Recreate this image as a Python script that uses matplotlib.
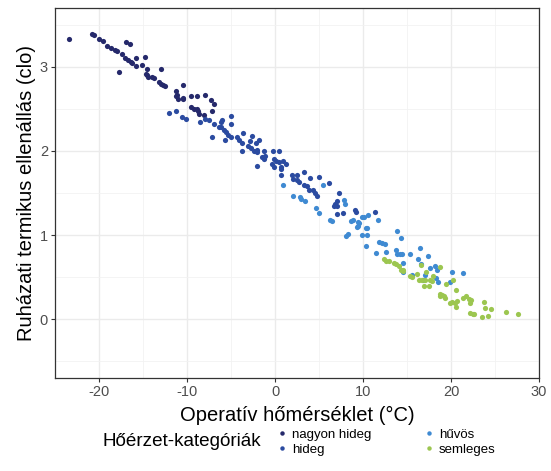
import numpy as np
import matplotlib
matplotlib.use("Agg")
import matplotlib.pyplot as plt
from matplotlib.lines import Line2D
from matplotlib.ticker import MultipleLocator

plt.rcParams['font.family'] = ['Liberation Sans', 'DejaVu Sans']

# Data: operative temperature (°C) vs clothing insulation (clo)
categories = ["nagyon hideg", "hideg", "hűvös", "semleges"]
colors = ["#25296B", "#2B4BA0", "#3F8AD2", "#9CC650"]

nagyon_hideg_x = [-23.4, -20.8, -20.6, -20.0, -19.6, -19.1, -18.6, -18.2, -18.0, -17.4,
                  -16.9, -16.5, -17.0, -16.7, -16.4, -16.2, -15.8, -15.8, -17.7, -15.1,
                  -14.8, -14.5, -13.0, -14.7, -14.5, -14.4, -14.0, -13.75, -13.2, -13.0,
                  -12.7, -12.5, -11.3, -11.1, -11.25, -11.0, -10.45, -10.4, -10.4, -9.5,
                  -8.9, -7.9, -7.3, -6.9, -9.5, -9.25, -8.9, -8.75, -8.6, -8.1, -7.2]
nagyon_hideg_y = [3.33, 3.39, 3.38, 3.33, 3.31, 3.25, 3.22, 3.20, 3.19, 3.15,
                  3.30, 3.27, 3.10, 3.08, 3.06, 3.05, 3.10, 3.01, 2.94, 3.02,
                  3.12, 2.98, 2.98, 2.92, 2.90, 2.88, 2.88, 2.87, 2.82, 2.80,
                  2.78, 2.77, 2.71, 2.67, 2.65, 2.62, 2.79, 2.63, 2.62, 2.65,
                  2.65, 2.66, 2.60, 2.56, 2.52, 2.50, 2.50, 2.48, 2.44, 2.43, 2.47]

hideg_x = [-12.0, -11.3, -10.6, -10.1, -8.0, -7.5, -8.5, -6.9, -6.0, -6.1,
           -5.05, -5.0, -6.4, -6.1, -5.85, -5.6, -5.3, -5.0, -7.2, -5.7,
           -4.3, -4.05, -3.7, -3.6, -2.8, -2.6, -2.2, -1.8, -3.1, -2.7,
           -2.4, -3.8, -2.0, -2.1, -1.2, -1.5, -1.1, -1.3, -2.0, -0.2,
           0.4, -0.15, 0.1, 0.4, 0.9, 1.2, -0.3, -0.15, 0.7, 0.7,
           1.9, 2.5, 2.1, 2.5, 2.7, 0.7, 3.25, 4.0, 5.0, 6.1,
           3.3, 3.6, 3.9, 4.3, 4.5, 4.8, 7.3, 7.1, 6.85, 6.7,
           7.0, 7.7, 7.0, 9.1, 9.15, 11.4]
hideg_y = [2.45, 2.48, 2.40, 2.38, 2.38, 2.37, 2.34, 2.32, 2.37, 2.34,
           2.42, 2.32, 2.29, 2.28, 2.25, 2.22, 2.19, 2.17, 2.16, 2.13,
           2.16, 2.13, 2.09, 2.21, 2.12, 2.18, 2.10, 2.13, 2.06, 2.04,
           2.00, 2.00, 2.01, 1.99, 2.00, 1.93, 1.94, 1.91, 1.82, 2.00,
           2.00, 1.91, 1.88, 1.87, 1.88, 1.85, 1.85, 1.81, 1.81, 1.71,
           1.72, 1.72, 1.67, 1.65, 1.63, 1.78, 1.75, 1.68, 1.69, 1.62,
           1.60, 1.58, 1.54, 1.53, 1.50, 1.46, 1.50, 1.40, 1.37, 1.34,
           1.34, 1.26, 1.25, 1.30, 1.27, 1.27]

huvos_x = [0.9, 2.0, 2.8, 2.95, 3.4, 4.7, 5.0, 5.5, 7.8, 7.9,
           6.2, 6.5, 8.6, 8.9, 9.4, 9.5, 9.9, 10.6, 10.1, 11.7,
           8.25, 8.1, 9.3, 9.4, 9.9, 10.4, 10.3, 10.45, 10.3, 11.8,
           12.2, 12.45, 13.9, 14.3, 11.5, 12.6, 13.8, 13.9, 14.2, 14.4,
           15.3, 16.5, 17.4, 16.3, 16.6, 14.5, 17.6, 18.2, 18.4, 20.1,
           21.4, 18.3, 18.5, 19.9, 15.6, 16.8, 14.6, 17.0]
huvos_y = [1.59, 1.46, 1.45, 1.43, 1.40, 1.32, 1.26, 1.60, 1.42, 1.37,
           1.18, 1.17, 1.17, 1.18, 1.16, 1.14, 1.22, 1.24, 1.22, 1.18,
           1.01, 0.99, 1.09, 1.11, 1.00, 1.00, 1.08, 1.08, 0.87, 0.92,
           0.90, 0.89, 1.05, 0.96, 0.79, 0.80, 0.82, 0.78, 0.77, 0.77,
           0.78, 0.85, 0.75, 0.71, 0.66, 0.67, 0.61, 0.63, 0.59, 0.56,
           0.55, 0.49, 0.44, 0.44, 0.52, 0.46, 0.56, 0.52]

semleges_x = [12.4, 12.65, 12.9, 13.5, 13.8, 14.05, 14.55, 14.3, 14.6, 15.3,
              15.55, 16.1, 16.4, 16.7, 17.2, 18.0, 16.6, 18.7, 17.1, 17.6,
              17.8, 16.9, 17.45, 19.4, 20.2, 20.6, 18.8, 19.0, 19.15, 18.7,
              19.35, 19.85, 20.1, 20.4, 20.7, 20.6, 21.4, 21.7, 22.0, 22.2,
              22.3, 22.2, 22.5, 22.65, 23.5, 24.2, 23.8, 23.9, 24.6, 26.2, 27.6]
semleges_y = [0.71, 0.69, 0.69, 0.67, 0.65, 0.63, 0.59, 0.58, 0.57, 0.51,
              0.50, 0.54, 0.47, 0.46, 0.56, 0.51, 0.64, 0.62, 0.46, 0.46,
              0.45, 0.39, 0.40, 0.42, 0.47, 0.35, 0.30, 0.29, 0.27, 0.27,
              0.25, 0.19, 0.20, 0.19, 0.21, 0.15, 0.25, 0.27, 0.24, 0.19,
              0.23, 0.07, 0.06, 0.06, 0.03, 0.04, 0.20, 0.13, 0.12, 0.08, 0.06]

series = [(nagyon_hideg_x, nagyon_hideg_y), (hideg_x, hideg_y),
          (huvos_x, huvos_y), (semleges_x, semleges_y)]

fig = plt.figure(figsize=(5.51, 4.71), dpi=100)
ax = fig.add_axes([55 / 551, 93 / 471, 484 / 551, 370 / 471])

for (xs, ys), c in zip(series, colors):
    ax.scatter(xs, ys, s=14, color=c, linewidths=0, zorder=3)

ax.set_xlim(-25, 30)
ax.set_ylim(-0.7, 3.7)
ax.xaxis.set_major_locator(MultipleLocator(10))
ax.xaxis.set_minor_locator(MultipleLocator(5))
ax.yaxis.set_major_locator(MultipleLocator(1))
ax.yaxis.set_minor_locator(MultipleLocator(0.5))
ax.grid(which="major", color="#EBEBEB", linewidth=1.0, zorder=0)
ax.grid(which="minor", color="#F2F2F2", linewidth=0.6, zorder=0)
ax.set_axisbelow(True)
for sp in ax.spines.values():
    sp.set_color("#333333")
    sp.set_linewidth(0.9)
ax.tick_params(which="major", length=3, width=0.8, color="#333333",
               labelcolor="#4D4D4D", labelsize=10.5, pad=2)
ax.tick_params(which="minor", length=0)
ax.set_xticklabels([f"{int(v)}" for v in ax.get_xticks()])

ax.set_xlabel("Operatív hőmérséklet (°C)", fontsize=14.5, labelpad=5)
ax.set_ylabel("Ruházati termikus ellenállás (clo)", fontsize=14.5, labelpad=3)

# legend at the bottom, title on the left
fig.text(102 / 551, 1 - 442 / 471, "Hőérzet-kategóriák", fontsize=13.6,
         ha="left", va="center")
handles = [Line2D([], [], marker="o", linestyle="", markersize=3.2, color=c,
                  markeredgewidth=0) for c in colors]
fig.legend(handles, categories, ncol=2, frameon=False, fontsize=9.5,
           loc="center left", bbox_to_anchor=(270 / 551, 1 - 442 / 471),
           handlelength=0.8, handletextpad=0.35, columnspacing=4.0,
           labelspacing=0.2, borderpad=0)

fig.savefig("out.png", dpi=100)
